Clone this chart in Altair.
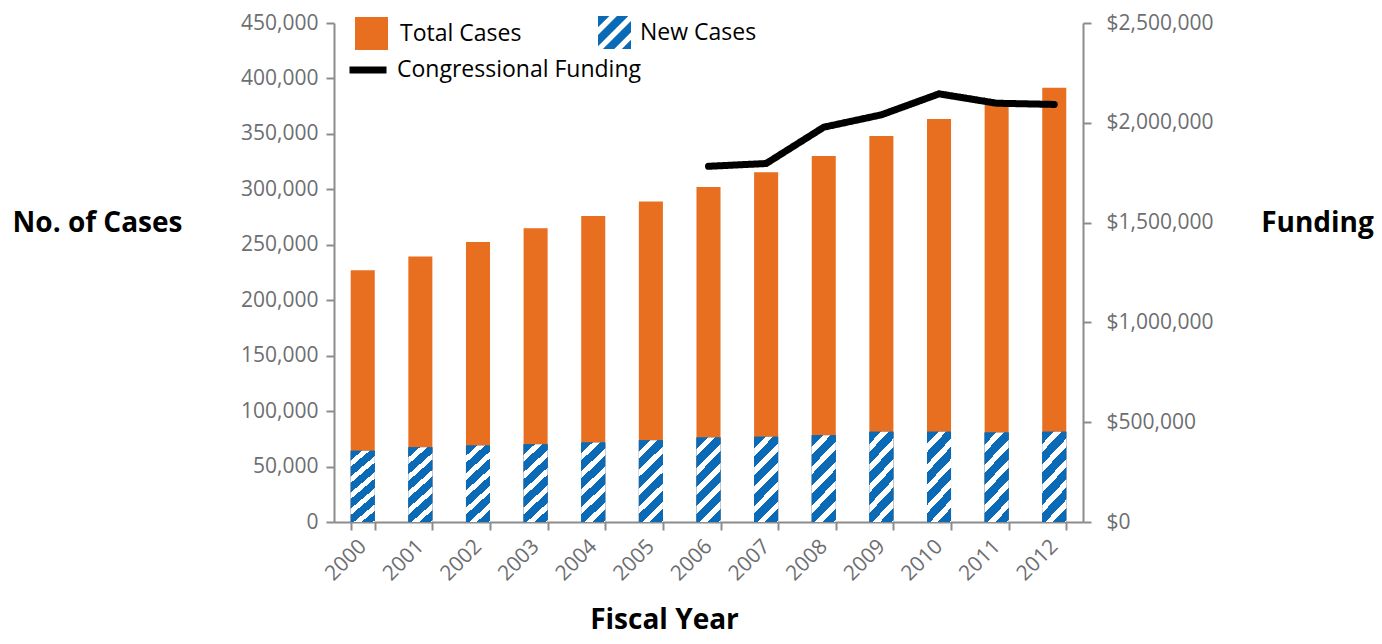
import math
import altair as alt
import pandas as pd

# ---------------- data ----------------
YEARS = ["2000", "2001", "2002", "2003", "2004", "2005", "2006",
         "2007", "2008", "2009", "2010", "2011", "2012"]
TOTAL_CASES = [227000, 239500, 252500, 265000, 276000, 289000, 302000,
               315500, 330000, 348000, 363500, 377000, 391500]
NEW_CASES = [64300, 67300, 69000, 70200, 71700, 73800, 76300,
             76800, 78300, 81400, 81400, 80600, 81400]
FUNDING = [None, None, None, None, None, None, 1782000,
           1796000, 1978000, 2040000, 2145000, 2098000, 2092000]
CASE_TICKS = [0, 50000, 100000, 150000, 200000, 250000, 300000, 350000, 400000, 450000]
FUNDING_TICKS = [0, 500000, 1000000, 1500000, 2000000, 2500000]
LEGEND_LABELS = ["Total Cases", "New Cases", "Congressional Funding"]

# ---------------- styles ----------------
ORANGE = "#E86E20"
BLUE = "#0B6AB5"
WHITE = "#FFFFFF"
BLACK = "#000000"
AXIS_GREY = "#8C8C8C"
LABEL_GREY = "#6D6E71"
FONT = "Open Sans"
STRIPE_PX = 13.4      # perpendicular period of the hatch, pixels
BLUE_FRAC = 0.6       # share of each period that is blue


def stripe_stops(period):
    stops = []
    s = 0.0
    while s < 1.0:
        e = s + period * BLUE_FRAC
        stops.append((s, BLUE))
        stops.append((min(e, 1.0), BLUE))
        if e < 1.0:
            stops.append((e, WHITE))
            stops.append((min(s + period, 1.0), WHITE))
        s += period
    return [alt.GradientStop(color=c, offset=round(o, 4)) for o, c in stops]


# bar hatch: stripes near 45 deg for a ~24 x 84 px bar (gradient in bbox units)
BW, BH = 24.0, 84.0
kk = (BW + BH) / (BW * BW + BH * BH)
bar_hatch = alt.LinearGradient(
    gradient="linear",
    stops=stripe_stops(STRIPE_PX / ((BW + BH) / math.sqrt(2))),
    x1=0, y1=0, x2=round(kk * BW, 4), y2=round(kk * BH, 4),
)


# legend swatch hatch: custom symbol path made of "/" stripes inside [-1,1]^2
def clip(poly, a, keep_ge):
    out = []
    n = len(poly)
    for i in range(n):
        p, q = poly[i], poly[(i + 1) % n]
        fp = p[0] + p[1] - a if keep_ge else a - (p[0] + p[1])
        fq = q[0] + q[1] - a if keep_ge else a - (q[0] + q[1])
        if fp >= 0:
            out.append(p)
        if (fp >= 0) != (fq >= 0):
            t = fp / (fp - fq)
            out.append((p[0] + t * (q[0] - p[0]), p[1] + t * (q[1] - p[1])))
    return out


SW = 33.0
unit = SW / 2.0
dc = STRIPE_PX / unit * math.sqrt(2)      # period in x+y units
paths = []
c = -2.0 - dc
while c < 2.0:
    c1, c2 = c, c + dc * BLUE_FRAC
    poly = [(-1.0, -1.0), (1.0, -1.0), (1.0, 1.0), (-1.0, 1.0)]
    poly = clip(poly, c1, True)
    if poly:
        poly = clip(poly, c2, False)
    if len(poly) >= 3:
        paths.append("M" + "L".join(f"{x:.3f},{y:.3f}" for x, y in poly) + "Z")
    c += dc
HATCH_PATH = "".join(paths)

df = pd.DataFrame({
    "year": YEARS,
    "total": TOTAL_CASES,
    "new": NEW_CASES,
    "funding": FUNDING,
})

x_enc = alt.X(
    "year:O",
    sort=YEARS,
    scale=alt.Scale(paddingInner=0.583, paddingOuter=0.29),
    axis=alt.Axis(
        title="Fiscal Year",
        labelAngle=-45,
        labelAlign="right",
        labelBaseline="middle",
        labelPadding=13,
        tickBand="extent",
        tickSize=8,
        titleX=330,
        titleY=106,
        titleAlign="center",
        titleBaseline="alphabetic",
    ),
)

case_scale = alt.Scale(domain=[0, 450000], nice=False, zero=True)
case_axis = alt.Axis(
    values=CASE_TICKS,
    format=",d",
    title="No. of Cases",
    titleAngle=0,
    titleX=-237,
    titleY=208,
    titleAlign="center",
    titleBaseline="alphabetic",
    tickSize=8,
    labelPadding=8,
)

legend_common = dict(
    title=None,
    orient="none",
    padding=0,
    labelFont=FONT,
    labelFontSize=23,
    labelColor=BLACK,
    labelLimit=0,
)

total_bars = alt.Chart(df).transform_calculate(
    series=f"'{LEGEND_LABELS[0]}'"
).mark_bar().encode(
    x=x_enc,
    y=alt.Y("total:Q", scale=case_scale, axis=case_axis),
    color=alt.Color(
        "series:N",
        scale=alt.Scale(domain=[LEGEND_LABELS[0]], range=[ORANGE]),
        legend=alt.Legend(
            legendX=20, legendY=-7,
            symbolType="square", symbolSize=SW * SW,
            labelOffset=11, **legend_common,
        ),
    ),
)

# solid blue base of the new-case bars; carries the "New Cases" legend entry
new_bars_base = alt.Chart(df).transform_calculate(
    series2=f"'{LEGEND_LABELS[1]}'"
).mark_bar(color=BLUE).encode(
    x=x_enc,
    y=alt.Y("new:Q", scale=case_scale, axis=case_axis),
    opacity=alt.Opacity(
        "series2:N",
        scale=alt.Scale(domain=[LEGEND_LABELS[1]], range=[1, 1]),
        legend=alt.Legend(
            legendX=264, legendY=-7,
            symbolType=HATCH_PATH, symbolSize=SW * SW,
            symbolFillColor=BLUE, symbolStrokeWidth=0,
            labelOffset=9, **legend_common,
        ),
    ),
)

# hatched face of the new-case bars
new_bars_hatch = alt.Chart(df).mark_bar(fill=bar_hatch).encode(
    x=x_enc,
    y=alt.Y("new:Q", scale=case_scale, axis=case_axis),
)

funding_line = alt.Chart(df).transform_filter(
    "isValid(datum.funding)"
).transform_calculate(
    series3=f"'{LEGEND_LABELS[2]}'"
).mark_line(
    color=BLACK, strokeWidth=7, strokeCap="round", strokeJoin="round"
).encode(
    x=x_enc,
    y=alt.Y(
        "funding:Q",
        scale=alt.Scale(domain=[0, 2500000], nice=False),
        axis=alt.Axis(
            orient="right",
            values=FUNDING_TICKS,
            format="$,d",
            title="Funding",
            titleAngle=0,
            titleX=234,
            titleY=208,
            titleAlign="center",
            titleBaseline="alphabetic",
            tickSize=8,
            labelPadding=15,
        ),
    ),
    strokeDash=alt.StrokeDash(
        "series3:N",
        scale=alt.Scale(domain=[LEGEND_LABELS[2]], range=[[1, 0]]),
        legend=alt.Legend(
            legendX=12, legendY=25,
            symbolType="stroke", symbolSize=1369,
            symbolStrokeWidth=7, symbolStrokeColor=BLACK,
            labelOffset=7, **legend_common,
        ),
    ),
)

bars = alt.layer(total_bars, new_bars_base, new_bars_hatch)

chart = alt.layer(bars, funding_line).resolve_scale(
    y="independent"
).properties(
    width=749,
    height=499,
    autosize=alt.AutoSizeParams(type="none"),
    padding={"left": 326, "top": 15, "right": 291, "bottom": 114},
).configure_view(
    strokeWidth=0
).configure_axis(
    grid=False,
    domainColor=AXIS_GREY,
    domainWidth=2,
    tickColor=AXIS_GREY,
    tickWidth=2,
    labelFont=FONT,
    labelFontSize=21,
    labelColor=LABEL_GREY,
    titleFont=FONT,
    titleFontSize=28,
    titleFontWeight="bold",
    titleColor=BLACK,
)

chart.save("out.html", embed_options={"renderer": "svg", "actions": False})
